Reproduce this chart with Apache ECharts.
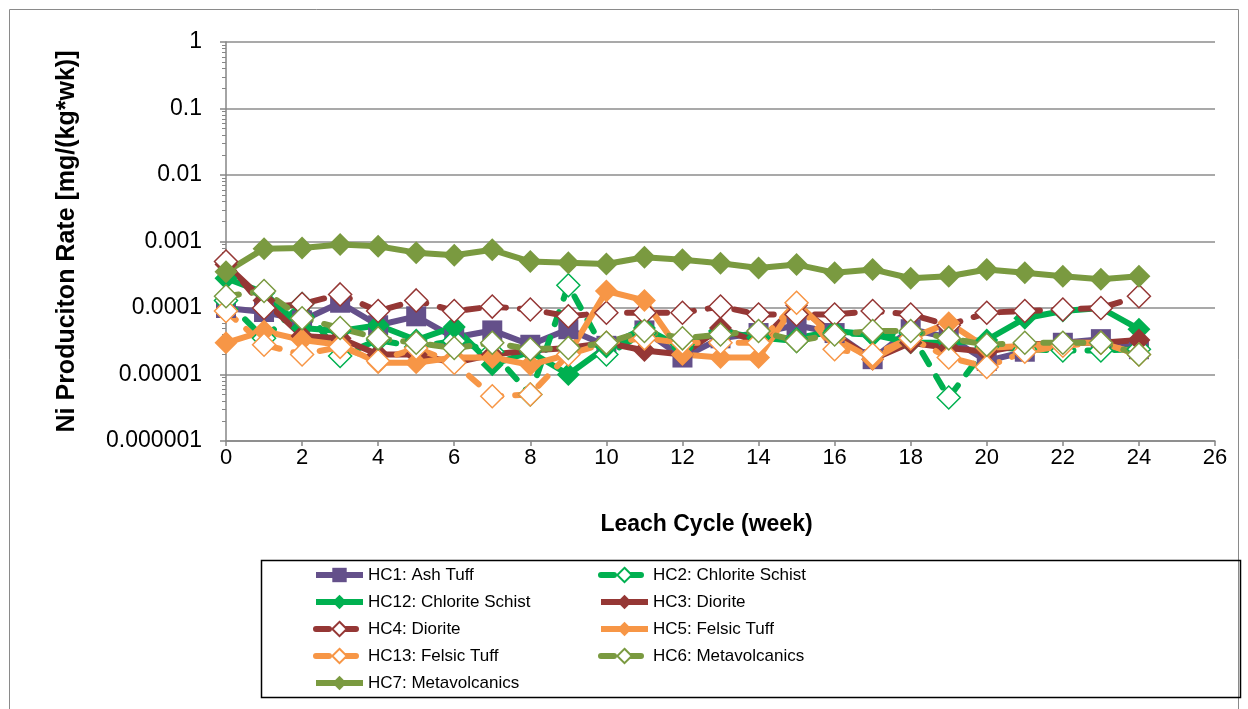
<!DOCTYPE html>
<html lang="en">
<head>
    <meta charset="UTF-8">
    <title>Ni Production Rate</title>
    <script type="text/javascript" src="https://cdn.jsdelivr.net/npm/echarts@6/dist/echarts.min.js"></script>
    <style type="text/css">
        html, body { margin: 0; padding: 0; background: #ffffff; }
        #main { width: 1248px; height: 709px; }
    </style>
</head>
<body>
<div id="main"></div>
<script type="text/javascript">
    var weeks = [0, 1, 2, 3, 4, 5, 6, 7, 8, 9, 10, 11, 12, 13, 14, 15, 16, 17, 18, 19, 20, 21, 22, 23, 24];
    var yTickLabels = ['0.000001', '0.00001', '0.0001', '0.001', '0.01', '0.1', '1'];

    var hc1 = [1.0e-4, 8.7e-5, 6.5e-5, 1.2e-4, 5.5e-5, 7.5e-5, 3.6e-5, 4.6e-5, 2.8e-5, 4.8e-5, 2.7e-5, 4.6e-5, 1.8e-5, 3.5e-5, 4.2e-5, 5.5e-5, 4.2e-5, 1.7e-5, 4.8e-5, 3.6e-5, 1.6e-5, 2.2e-5, 3.0e-5, 3.4e-5, 2.4e-5];
    var hc2 = [1.3e-4, 3.5e-5, 1.15e-4, 1.9e-5, 3.3e-5, 2.6e-5, 3.2e-5, 2.2e-5, 5.0e-6, 2.2e-4, 2.0e-5, 4.2e-5, 2.8e-5, 4.5e-5, 3.6e-5, 3.2e-5, 4.2e-5, 4.0e-5, 4.2e-5, 4.5e-6, 2.6e-5, 2.4e-5, 2.3e-5, 2.3e-5, 2.4e-5];
    var hc12 = [2.8e-4, 1.7e-4, 5.0e-5, 4.5e-5, 5.5e-5, 3.3e-5, 5.2e-5, 1.4e-5, 2.2e-5, 1.0e-5, 2.6e-5, 5.0e-5, 2.5e-5, 4.5e-5, 3.5e-5, 3.5e-5, 4.5e-5, 4.0e-5, 3.0e-5, 3.0e-5, 3.3e-5, 7.0e-5, 9.0e-5, 1.0e-4, 4.8e-5];
    var hc3 = [4.5e-4, 1.3e-4, 3.8e-5, 3.5e-5, 2.0e-5, 2.0e-5, 1.5e-5, 2.0e-5, 2.3e-5, 2.5e-5, 3.0e-5, 2.3e-5, 2.0e-5, 5.0e-5, 3.0e-5, 1.1e-4, 4.0e-5, 1.7e-5, 3.0e-5, 2.5e-5, 2.2e-5, 2.8e-5, 3.0e-5, 3.0e-5, 3.3e-5];
    var hc4 = [5.0e-4, 1.0e-4, 1.15e-4, 1.6e-4, 9.0e-5, 1.3e-4, 9.0e-5, 1.05e-4, 9.5e-5, 7.5e-5, 8.5e-5, 8.5e-5, 8.5e-5, 1.05e-4, 8.0e-5, 8.0e-5, 8.0e-5, 9.0e-5, 8.0e-5, 5.5e-5, 8.5e-5, 9.0e-5, 9.5e-5, 1.0e-4, 1.5e-4];
    var hc5 = [3.0e-5, 4.5e-5, 3.3e-5, 2.8e-5, 1.5e-5, 1.5e-5, 1.8e-5, 1.8e-5, 1.4e-5, 2.0e-5, 1.8e-4, 1.3e-4, 2.0e-5, 1.8e-5, 1.8e-5, 1.2e-4, 3.5e-5, 1.7e-5, 3.5e-5, 6.0e-5, 2.5e-5, 2.7e-5, 3.0e-5, 3.0e-5, 2.0e-5];
    var hc13 = [9.0e-5, 2.8e-5, 2.0e-5, 2.6e-5, 1.6e-5, 2.5e-5, 1.5e-5, 4.7e-6, 5.0e-6, 2.0e-5, 3.0e-5, 3.5e-5, 3.0e-5, 3.0e-5, 3.0e-5, 1.2e-4, 2.4e-5, 2.0e-5, 3.5e-5, 1.8e-5, 1.3e-5, 2.2e-5, 2.7e-5, 3.0e-5, 2.0e-5];
    var hc6 = [1.5e-4, 1.8e-4, 7.0e-5, 5.0e-5, 3.5e-5, 3.0e-5, 2.5e-5, 3.0e-5, 2.4e-5, 2.5e-5, 3.0e-5, 4.5e-5, 3.5e-5, 4.0e-5, 4.5e-5, 3.2e-5, 4.0e-5, 4.5e-5, 4.5e-5, 3.5e-5, 2.8e-5, 3.0e-5, 3.0e-5, 3.0e-5, 2.0e-5];
    var hc7 = [3.5e-4, 7.8e-4, 8.0e-4, 9.0e-4, 8.5e-4, 6.8e-4, 6.2e-4, 7.5e-4, 5.0e-4, 4.8e-4, 4.6e-4, 5.8e-4, 5.3e-4, 4.7e-4, 4.0e-4, 4.5e-4, 3.4e-4, 3.8e-4, 2.8e-4, 3.0e-4, 3.8e-4, 3.4e-4, 3.0e-4, 2.7e-4, 3.0e-4];

    var PURPLE = '#64508a', GREEN = '#00b050', RED = '#953735', ORANGE = '#f79646', OLIVE = '#7a9a40';
    var FONT = "'Liberation Sans', Arial, sans-serif";

    function pairs(vals) {
        var out = [];
        for (var i = 0; i < vals.length; i++) out.push([weeks[i], vals[i]]);
        return out;
    }

    // filled = solid line + filled marker, hollow = dashed line + white marker
    function makeSeries(name, vals, color, hollow, symbol) {
        return {
            name: name,
            type: 'line',
            data: pairs(vals),
            symbol: symbol || 'diamond',
            symbolSize: symbol === 'rect' ? 20 : 23,
            showAllSymbol: true,
            lineStyle: {
                color: color,
                width: 6,
                type: hollow ? [13, 14] : 'solid',
                cap: hollow ? 'round' : 'butt'
            },
            itemStyle: hollow ? {
                color: '#ffffff',
                borderColor: color,
                borderWidth: 1.5
            } : {
                color: color,
                borderColor: color,
                borderWidth: 0
            },
            emphasis: { disabled: true },
            animation: false
        };
    }

    var chart = echarts.init(document.getElementById('main'));
    chart.setOption({
        backgroundColor: '#ffffff',
        animation: false,
        graphic: [
            {
                type: 'rect',
                shape: { x: 9.5, y: 9.5, width: 1229, height: 710 },
                style: { fill: null, stroke: '#8a8a8a', lineWidth: 1 },
                silent: true
            },
            {
                type: 'rect',
                shape: { x: 261.5, y: 560.5, width: 979, height: 137 },
                style: { fill: null, stroke: '#000000', lineWidth: 1.5 },
                silent: true
            }
        ],
        grid: {
            left: 226,
            right: 33,
            top: 42,
            bottom: 268,
            containLabel: false
        },
        legend: {
            left: 313,
            top: 566,
            width: 575,
            orient: 'horizontal',
            itemWidth: 47,
            itemHeight: 18,
            itemGap: 9,
            padding: 0,
            selectedMode: false,
            lineStyle: { width: 6 },
            textStyle: {
                fontFamily: FONT,
                fontSize: 17,
                color: '#000000',
                width: 221,
                lineHeight: 18
            },
            data: ['HC1: Ash Tuff', 'HC2: Chlorite Schist', 'HC12: Chlorite Schist', 'HC3: Diorite',
                'HC4: Diorite', 'HC5: Felsic Tuff', 'HC13: Felsic Tuff', 'HC6: Metavolcanics', 'HC7: Metavolcanics']
        },
        xAxis: {
            type: 'value',
            min: 0,
            max: 26,
            interval: 2,
            name: 'Leach Cycle (week)',
            nameLocation: 'middle',
            nameGap: 72,
            nameTextStyle: {
                fontFamily: FONT,
                fontSize: 23,
                fontWeight: 'bold',
                color: '#000000',
                padding: [0, 28, 0, 0]
            },
            axisLine: { onZero: false, lineStyle: { color: '#868686', width: 1.5 } },
            axisTick: { show: true, length: 5, inside: false, lineStyle: { color: '#868686', width: 1.5 } },
            axisLabel: {
                fontFamily: FONT,
                fontSize: 22,
                color: '#000000',
                margin: 6
            },
            splitLine: { show: false }
        },
        yAxis: {
            type: 'log',
            logBase: 10,
            min: 1e-6,
            max: 1,
            name: 'Ni Produciton Rate [mg/(kg*wk)]',
            nameLocation: 'middle',
            nameGap: 146,
            nameTextStyle: {
                fontFamily: FONT,
                fontSize: 25,
                fontWeight: 'bold',
                color: '#000000'
            },
            axisLine: { show: true, lineStyle: { color: '#868686', width: 1.5 } },
            axisTick: { show: true, length: 6, lineStyle: { color: '#868686', width: 1.5 } },
            minorTick: { show: true, splitNumber: 9, length: 4, lineStyle: { color: '#868686', width: 1 } },
            axisLabel: {
                fontFamily: FONT,
                fontSize: 23,
                color: '#000000',
                margin: 24,
                formatter: function (v) {
                    return yTickLabels[Math.round(Math.log10(v)) + 6];
                }
            },
            splitLine: { show: true, lineStyle: { color: '#8c8c8c', width: 1.5 } }
        },
        series: [
            makeSeries('HC1: Ash Tuff', hc1, PURPLE, false, 'rect'),
            makeSeries('HC2: Chlorite Schist', hc2, GREEN, true),
            makeSeries('HC12: Chlorite Schist', hc12, GREEN, false),
            makeSeries('HC3: Diorite', hc3, RED, false),
            makeSeries('HC4: Diorite', hc4, RED, true),
            makeSeries('HC5: Felsic Tuff', hc5, ORANGE, false),
            makeSeries('HC13: Felsic Tuff', hc13, ORANGE, true),
            makeSeries('HC6: Metavolcanics', hc6, OLIVE, true),
            makeSeries('HC7: Metavolcanics', hc7, OLIVE, false)
        ]
    });
</script>
</body>
</html>
